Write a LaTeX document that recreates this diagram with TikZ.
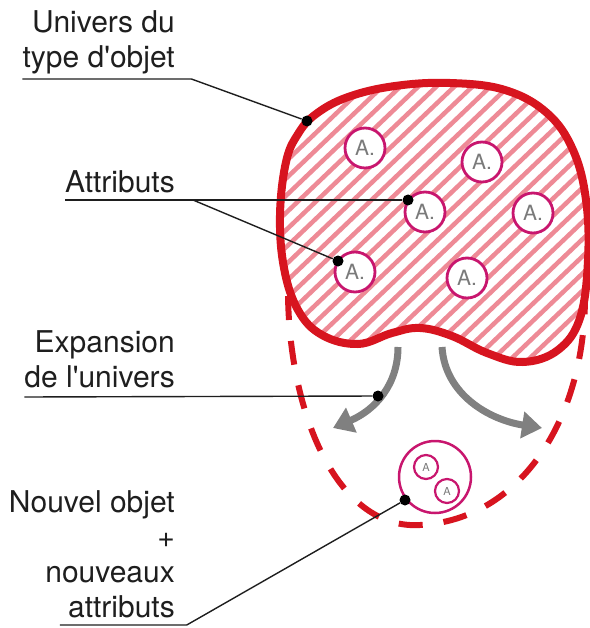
\documentclass[tikz,border=0pt]{standalone}
\usepackage{fontspec}
\setmainfont{TeX Gyre Heros}
\usetikzlibrary{arrows.meta,positioning}

\definecolor{univred}{HTML}{D7141F}
\definecolor{hatchpink}{HTML}{EE8A96}
\definecolor{attrmag}{HTML}{C8166E}
\definecolor{expgray}{HTML}{808080}
\definecolor{agray}{HTML}{7A7A7A}
\definecolor{ink}{HTML}{1E1E1E}

% outline of the universe (pixel-like units, y down)
\def\univblob{plot[smooth cycle,tension=0.65] coordinates {
  (280,215) (284,268) (298,310) (322,335) (358,344) (392,333) (420,328)
  (452,336) (487,353) (523,362) (558,350) (580,318) (588,260) (586,200)
  (573,150) (547,113) (505,90) (450,83) (395,86) (348,97) (316,114)
  (298,134) (286,162)}}

\begin{document}
\begin{tikzpicture}[x=1pt,y=-1pt,
  note/.style={align=right,anchor=south east,inner sep=0pt,text depth=0pt,
               text=ink,font=\fontsize{30}{35}\selectfont},
  attr/.style={circle,draw=attrmag,line width=2.8pt,fill=white,minimum size=40pt,
               inner sep=0pt,text=agray,font=\fontsize{21}{21}\selectfont},
  smallattr/.style={attr,minimum size=24pt,line width=2.2pt,font=\fontsize{11}{11}\selectfont},
  pin/.style={circle,fill=black,minimum size=11pt,inner sep=0pt},
  leader/.style={draw=ink,line width=1.4pt},
  hatch/.style={draw=hatchpink,line width=4.5pt},
  expand/.style={draw=expgray,line width=7pt,-{Triangle[length=20pt,width=26pt]}}]

\useasboundingbox (0,0) rectangle (589,628);

% expansion zone
\draw[univred,line width=6pt,dash pattern=on 24pt off 21pt]
  (288,296) .. controls (290,420) and (340,530) .. (420,525)
            .. controls (520,520) and (585,420) .. (585,296);

% universe: white fill, hatching, thick border
\fill[white] \univblob;
\begin{scope}
  \clip \univblob;
  \foreach \x in {-90,-72,...,570}
    \draw[hatch] (\x,400) -- ++(440,-420);
\end{scope}
\draw[univred,line width=8pt] \univblob;

% attributes
\node[attr] (a1) at (365,148) {A.};
\node[attr] (a2) at (482,162) {A.};
\node[attr] (a3) at (425,212) {A.};
\node[attr] (a4) at (533,213) {A.};
\node[attr] (a5) at (355,272) {A.};
\node[attr] (a6) at (467,278) {A.};

% expansion arrows
\coordinate (exl) at (398,347);
\coordinate (exr) at (442,347);
\coordinate (exlend) at (333,428);
\coordinate (exrend) at (542,428);
\draw[expand] (exl) .. controls (398,385) and (375,410) .. (exlend);
\draw[expand] (exr) .. controls (445,395) and (490,420) .. (exrend);

% new object
\node[circle,draw=attrmag,line width=2.5pt,fill=white,minimum size=72pt] (newobj) at (435,477) {};
\node[smallattr] (na1) at (426,467) {A};
\node[smallattr] (na2) at (447,491) {A};

% pins
\node[pin] (univpin) at (307,121) {};
\node[pin] (attrpin1) at (408,200) {};
\node[pin] (attrpin2) at (338,261) {};
\node[pin] (exppin) at (378,396) {};
\node[pin] (newpin) at (405,500) {};

% labels
\node[note] (univ) at (175,68) {Univers du\\type d\textquotesingle objet};
\node[note] (attrs) at (175,193) {Attributs};
\node[note] (exp) at (175,388) {Expansion\\de l\textquotesingle univers};
\node[note] (newtxt) at (175,618) {Nouvel objet\\+\hspace*{14pt}\\nouveaux\\attributs};

% leaders
\draw[leader] ([yshift=-11pt]univ.south west) -- ++(169,0) -- (univpin);
\draw[leader] ([yshift=-7pt]attrs.south west) -- (attrpin1);
\draw[leader] ([yshift=-7pt]attrs.south west) ++(128,0) -- (attrpin2);
\draw[leader] ([yshift=-9pt]exp.south west) -- (exppin);
\draw[leader] ([yshift=-7pt,xshift=51pt]newtxt.south west) -- ++(127,0) -- (newpin);

\end{tikzpicture}
\end{document}
